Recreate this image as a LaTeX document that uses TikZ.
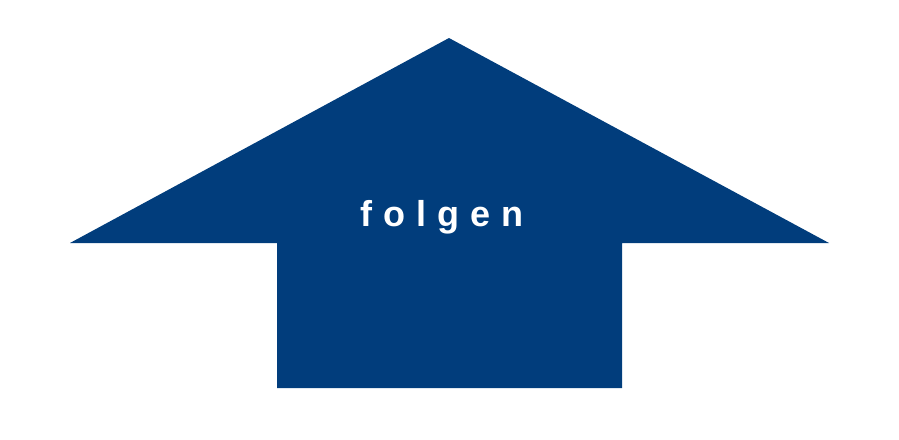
\documentclass[tikz,border=0pt]{standalone}
\usepackage{fontspec}
\setmainfont{Liberation Sans}
\definecolor{arrowblue}{RGB}{1,61,124}
\begin{document}
\begin{tikzpicture}[x=1pt,y=-1pt,
  arrowshape/.style={fill=arrowblue,draw=none},
  label/.style={text=white,font=\fontsize{36}{40}\selectfont\bfseries\addfontfeature{LetterSpace=31},inner sep=0pt,anchor=base}]
\useasboundingbox (0,0) rectangle (899,439);
\fill[arrowblue] (449,38) -- (829,243) -- (622,243) -- (622,388) -- (277,388) -- (277,243) -- (70,243) -- cycle;
\node[label] (t) at (442,226) {folgen};
\end{tikzpicture}
\end{document}
